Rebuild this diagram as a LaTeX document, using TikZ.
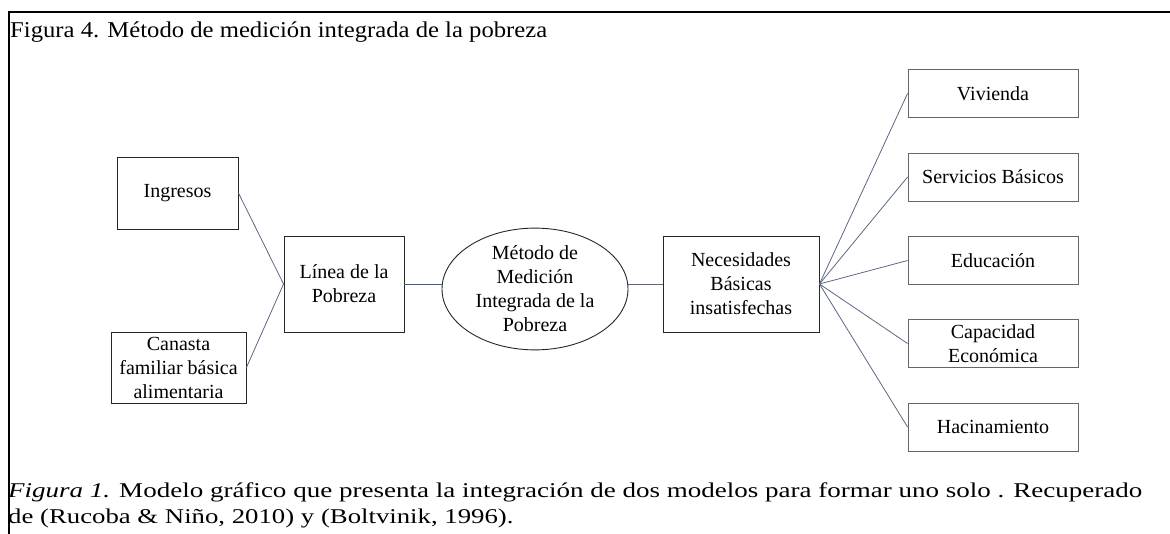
\documentclass[tikz,border=0pt]{standalone}
\usepackage{fontspec}
\setmainfont{Liberation Serif}
\usetikzlibrary{shapes.geometric}
\definecolor{conn}{HTML}{5A6885}
\definecolor{connb}{HTML}{3E5E9E}
\definecolor{boxgray}{HTML}{666666}
\tikzset{
  box/.style={draw=black!85, line width=0.9pt, inner sep=0pt, align=center, font=\fontsize{20}{24}\selectfont},
  rbox/.style={box, draw=boxgray, minimum width=170pt, minimum height=48pt},
  conn/.style={draw=conn, line width=0.8pt},
  captext/.style={anchor=base west, inner sep=0pt, font=\fontsize{21}{26}\selectfont},
}
\begin{document}
\begin{tikzpicture}[x=1pt,y=1pt]
\useasboundingbox (0,0) rectangle (1170,-534);
% frame
\draw[line width=2pt] (8.5,-534) -- (8.5,-12) -- (1170,-12);
% title
\node[anchor=base west, inner sep=0pt, font=\fontsize{22.6}{28}\selectfont] (title) at (10,-37.5) {\resizebox{537pt}{\height}{Figura 4. Método de medición integrada de la pobreza}};
% left boxes
\node[box, minimum width=121pt, minimum height=72pt] (ing) at (177.5,-193) {Ingresos};
\node[box, minimum width=135pt, minimum height=71pt] (can) at (178.5,-367.5) {Canasta\\familiar básica\\alimentaria};
\node[box, minimum width=120pt, minimum height=96pt] (lin) at (344,-284) {Línea de la\\Pobreza};
\node[ellipse, draw=black!85, line width=0.9pt, minimum width=186pt, minimum height=114pt, inner sep=0pt, align=center, font=\fontsize{20}{24}\selectfont] (ell) at (535,-289) {Método de\\Medición\\Integrada de la\\Pobreza};
\node[box, minimum width=156pt, minimum height=96pt] (nec) at (741,-284) {Necesidades\\Básicas\\insatisfechas};
% right boxes
\node[rbox] (viv) at (993,-93.5) {Vivienda};
\node[rbox] (ser) at (993,-177) {Servicios Básicos};
\node[rbox] (edu) at (993,-260.5) {Educación};
\node[rbox] (cap) at (993,-343.5) {Capacidad\\Económica};
\node[rbox] (hac) at (993,-427) {Hacinamiento};
% connectors
\draw[conn] (ing.east) -- (lin.west);
\draw[conn] (can.east) -- (lin.west);
\draw[draw=connb, line width=0.8pt] (lin.east) -- (lin.east -| ell.west);
\draw[conn] (nec.west -| ell.east) -- (nec.west);
\foreach \n in {viv,ser,edu,cap,hac} \draw[conn] (nec.east) -- (\n.west);
% caption
\node[captext] (cap1) at (8,-497) {\resizebox{1134pt}{\height}{\textit{Figura 1.} Modelo gráfico que presenta la integración de dos modelos para formar uno solo . Recuperado}};
\node[captext] (cap2) at (8,-523) {\scalebox{1.274}[1]{de (Rucoba \& Niño, 2010) y (Boltvinik, 1996).}};
\end{tikzpicture}
\end{document}
